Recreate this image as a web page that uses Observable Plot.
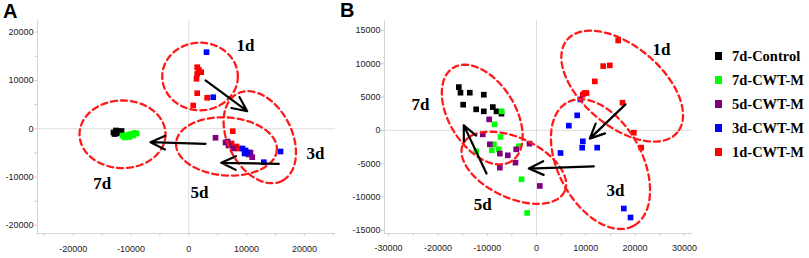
<!DOCTYPE html>
<html><head><meta charset="utf-8">
<script src="https://cdn.jsdelivr.net/npm/d3@7"></script>
<script src="https://cdn.jsdelivr.net/npm/@observablehq/plot@0.6"></script>
<style>
body{margin:0;background:#fff;}
#wrap{position:relative;width:809px;height:258px;overflow:hidden;background:#fff;}
#panelA{position:absolute;left:0;top:0;width:340px;height:258px;}
#panelB{position:absolute;left:330px;top:0;width:372px;height:258px;}
#overlay{position:absolute;left:0;top:0;}
</style></head><body>
<div id="wrap"><div id="panelA"></div><div id="panelB"></div><svg id="overlay" width="809" height="258"></svg></div>
<script>
// ---- series / legend ----
const seriesNames = ["7d-Control","7d-CWT-M","5d-CWT-M","3d-CWT-M","1d-CWT-M"];
const seriesColors = ["#000000","#00ff00","#800080","#0000ff","#ff0000"];

// ---- Panel A scores ----
const aControl = [[-13030,-770],[-12850,-1080],[-12510,-970],[-12160,-770],[-11990,-560],[-11640,-460],[-12600,-350]];
const aCwt7 = [[-11470,-1390],[-11120,-1800],[-10950,-1590],[-10430,-1180],[-10260,-1700],[-9910,-1080],[-9570,-1390],[-9390,-870],[-9050,-970]];
const aCwt5 = [[4620,-1860],[6350,-2840],[6700,-2630],[6870,-3460],[7730,-4080],[10330,-5320],[10670,-4910],[10970,-5880]];
const aCwt3 = [[3060,15860],[4220,6540],[9290,-4080],[9810,-4490],[10160,-4910],[9640,-5110],[12980,-6920],[15870,-4700]];
const aCwt1 = [[1450,12750],[1730,12220],[2150,11720],[1450,11390],[1330,10350],[1450,7370],[3180,6420],[760,4820],[7610,-500],[7390,-3040],[8250,-3660],[8600,-4080]];

// ---- Panel B scores ----
const bControl = [[-15760,6490],[-15420,5650],[-14870,3850],[-13530,5650],[-12240,3150],[-10690,5350],[-10690,2850],[-8860,3490],[-8110,2850],[-7100,2500]];
const bCwt7 = [[-7100,2850],[-8520,900],[-7300,-1000],[-8660,-2100],[-9070,-3000],[-7650,-2850],[-3590,-2400],[-12240,-3150],[-3040,-7350],[-1890,-12400]];
const bCwt5 = [[-9600,1650],[-10890,-600],[-9470,-2100],[-7440,-3500],[-5820,-3750],[-4120,-2850],[-4260,-4850],[-7440,-5600],[-1420,-2000],[670,-8350]];
const bCwt3 = [[8920,4650],[8250,2250],[6560,700],[9400,-1650],[9270,-2600],[12310,-2600],[4870,-3400],[17710,-11740],[19070,-13090]];
const bCwt1 = [[16570,13490],[13530,9640],[14870,9750],[11830,7350],[9740,5600],[10140,5600],[9390,5350],[17440,4150],[19740,-350],[21240,-2600]];

// ---- tick values ----
const aTicksX = [-20000,-10000,0,10000,20000];
const aTicksY = [-20000,-10000,0,10000,20000];
const bTicksX = [-30000,-20000,-10000,0,10000,20000,30000];
const bTicksY = [-15000,-10000,-5000,0,5000,10000,15000];

// ---- group ellipses (centre, semi-axes in x units, tilt deg) ----
const aGroups = [
  {name:"1d", cx:1940, cy:10830, a:6540, b:5850, angle:0, lx:9810, ly:17250},
  {name:"3d", cx:12280, cy:-1740, a:8480, b:5540, angle:63, lx:21920, ly:-5050},
  {name:"5d", cx:6520, cy:-3660, a:8740, b:5020, angle:4, lx:1850, ly:-13130},
  {name:"7d", cx:-11470, cy:-1140, a:7440, b:5850, angle:0, lx:-14980, ly:-11260}
];
const bGroups = [
  {name:"1d", cx:17380, cy:6630, a:14600, b:8110, angle:40, lx:25350, ly:12100},
  {name:"3d", cx:12980, cy:-5070, a:14200, b:8520, angle:62, lx:16020, ly:-9000},
  {name:"5d", cx:-4600, cy:-5620, a:11360, b:6090, angle:25, lx:-10890, ly:-11090},
  {name:"7d", cx:-11010, cy:2370, a:11160, b:6690, angle:58, lx:-23530, ly:3900}
];
// ---- arrows (from, to) ----
const aArrows = [
  {x1:2890, y1:10000, x2:10100, y2:3640},
  {x1:15570, y1:-7250, x2:5610, y2:-7040},
  {x1:2890, y1:-3110, x2:-6630, y2:-2770}
];
const bArrows = [
  {x1:18050, y1:3900, x2:10810, y2:-1240},
  {x1:11620, y1:-5400, x2:-1560, y2:-5740},
  {x1:-10140, y1:-6490, x2:-14750, y2:750}
];

function toRows(pairs){
  const rows=[];
  pairs.forEach(([name,arr])=>arr.forEach(([x,y])=>rows.push({x,y,s:name})));
  return rows;
}
function ellipsePts(groups,kx,ky){
  const pts=[];
  for(const e of groups){
    const t=e.angle*Math.PI/180;
    for(let i=0;i<=160;i++){
      const p=2*Math.PI*i/160;
      const ux=e.a*Math.cos(p), uy=e.b*Math.sin(p);
      const sx=ux*Math.cos(t)-uy*Math.sin(t);
      const sy=ux*Math.sin(t)+uy*Math.cos(t);
      pts.push({id:e.name,x:e.cx+sx,y:e.cy-sy*kx/ky});
    }
  }
  return pts;
}

function panel(cfg){
  const {width,height,mL,mR,mT,mB,xd,yd,rows,groups,arrows,ticksX,ticksY,minorX,minorY,padX} = cfg;
  const kx=(width-mL-mR)/(xd[1]-xd[0]);
  const ky=(height-mT-mB)/(yd[1]-yd[0]);
  const ell=ellipsePts(groups,kx,ky);
  return Plot.plot({
    width,height,marginLeft:mL,marginRight:mR,marginTop:mT,marginBottom:mB,
    style:{background:"transparent",fontFamily:"'Liberation Sans', Arial, sans-serif",fontSize:"9px",color:"#222",overflow:"visible"},
    x:{domain:xd},
    y:{domain:yd},
    color:{domain:seriesNames,range:seriesColors},
    marks:[
      Plot.ruleX([0],{stroke:"#dcdcdc",strokeWidth:1}),
      Plot.ruleY([0],{stroke:"#dcdcdc",strokeWidth:1}),
      Plot.ruleX([xd[0]],{stroke:"#d6d6d6",strokeWidth:1}),
      Plot.ruleY([yd[0]],{stroke:"#d6d6d6",strokeWidth:1}),
      Plot.axisX({ticks:minorX,tickSize:3,stroke:"#cfcfcf",tickFormat:()=>""}),
      Plot.axisY({ticks:minorY,tickSize:3,stroke:"#cfcfcf",tickFormat:()=>""}),
      Plot.axisX({ticks:ticksX,tickSize:0,tickPadding:padX,tickFormat:d=>String(d),fill:"#222"}),
      Plot.axisY({ticks:ticksY,tickSize:0,tickPadding:4,tickFormat:d=>String(d),fill:"#222"}),
      Plot.dot(rows,{x:"x",y:"y",fill:"s",symbol:"square",r:3.2,stroke:null}),
      Plot.line(ell,{x:"x",y:"y",z:"id",stroke:"#ff1a1a",strokeWidth:2.3,strokeDasharray:"6,4",curve:"linear"}),
      Plot.arrow(arrows,{x1:"x1",y1:"y1",x2:"x2",y2:"y2",stroke:"#000",strokeWidth:2.2,headLength:11,headAngle:50}),
      Plot.text(groups,{x:"lx",y:"ly",text:"name",fontFamily:"'Liberation Serif','Times New Roman',serif",fontWeight:"bold",fontSize:17,fill:"#000"})
    ]
  });
}

const plotA = panel({
  width:340,height:258,mL:37,mR:5,mT:20,mB:25,
  xd:[-26180,25380], yd:[-21680,22420],
  rows:toRows([["7d-Control",aControl],["7d-CWT-M",aCwt7],["1d-CWT-M",aCwt1],["5d-CWT-M",aCwt5],["3d-CWT-M",aCwt3]]),
  groups:aGroups, arrows:aArrows,
  ticksX:aTicksX, ticksY:aTicksY,
  minorX:d3.range(-25000,25001,5000), minorY:d3.range(-20000,20001,5000), padX:12
});
document.getElementById("panelA").appendChild(plotA);

const plotB = panel({
  width:362,height:258,mL:54,mR:0,mT:20,mB:25,
  xd:[-30830,31640], yd:[-15490,16490],
  rows:toRows([["7d-Control",bControl],["7d-CWT-M",bCwt7],["5d-CWT-M",bCwt5],["3d-CWT-M",bCwt3],["1d-CWT-M",bCwt1]]),
  groups:bGroups, arrows:bArrows,
  ticksX:bTicksX, ticksY:bTicksY,
  minorX:d3.range(-30000,30001,5000), minorY:d3.range(-15000,15001,5000), padX:11
});
document.getElementById("panelB").appendChild(plotB);

// overlay: panel letters + legend
const ov=d3.select("#overlay");
ov.selectAll("text.panel").data([{t:"A",x:3,y:18},{t:"B",x:340,y:17}]).join("text")
  .attr("class","panel").attr("x",d=>d.x).attr("y",d=>d.y).text(d=>d.t)
  .attr("font-family","'Liberation Sans', Arial, sans-serif").attr("font-weight","bold").attr("font-size",20).attr("fill","#000");
const lg=ov.selectAll("g.lg").data(seriesNames).join("g").attr("class","lg")
  .attr("transform",(d,i)=>`translate(715,${56+i*24})`);
lg.append("rect").attr("x",0).attr("y",-4).attr("width",7).attr("height",8).attr("fill",(d,i)=>seriesColors[i]);
lg.append("text").attr("x",17).attr("y",5).text(d=>d)
  .attr("font-family","'Liberation Serif','Times New Roman',serif").attr("font-weight","bold").attr("font-size",14.5).attr("fill","#000");
</script>
</body></html>
